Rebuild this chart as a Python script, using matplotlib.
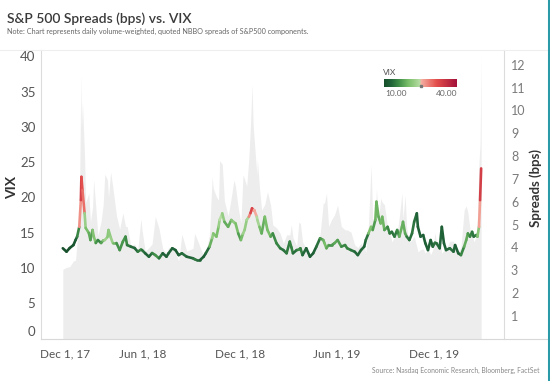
import matplotlib
matplotlib.use("Agg")
import matplotlib.pyplot as plt
import numpy as np
import pandas as pd
import matplotlib.dates as mdates
from matplotlib.collections import LineCollection
from matplotlib.colors import LinearSegmentedColormap, Normalize
from matplotlib.lines import Line2D
import matplotlib.transforms as mtransforms

# ---------------- data ----------------
dates = [
    "2018-01-02", "2018-01-09", "2018-01-15", "2018-01-22", "2018-01-26", "2018-01-29",
    "2018-02-02", "2018-02-05", "2018-02-06", "2018-02-08", "2018-02-12", "2018-02-14",
    "2018-02-20", "2018-02-23", "2018-02-27", "2018-03-01", "2018-03-05", "2018-03-09",
    "2018-03-15", "2018-03-19", "2018-03-22", "2018-03-27", "2018-03-29", "2018-04-02",
    "2018-04-06", "2018-04-13", "2018-04-19", "2018-04-25", "2018-04-30", "2018-05-03",
    "2018-05-10", "2018-05-17", "2018-05-23", "2018-05-29", "2018-05-31", "2018-06-06",
    "2018-06-13", "2018-06-19", "2018-06-25", "2018-07-02", "2018-07-09", "2018-07-16",
    "2018-07-20", "2018-07-27", "2018-08-02", "2018-08-08", "2018-08-14", "2018-08-23",
    "2018-09-04", "2018-09-07", "2018-09-11", "2018-09-17", "2018-09-24", "2018-09-28",
    "2018-10-05", "2018-10-10", "2018-10-12", "2018-10-18", "2018-10-22", "2018-10-24",
    "2018-10-29", "2018-11-02", "2018-11-09", "2018-11-15", "2018-11-20", "2018-11-23",
    "2018-11-28", "2018-12-03", "2018-12-07", "2018-12-10", "2018-12-14", "2018-12-18",
    "2018-12-21", "2018-12-24", "2018-12-26", "2018-12-28", "2019-01-02", "2019-01-03",
    "2019-01-07", "2019-01-11", "2019-01-17", "2019-01-22", "2019-01-28", "2019-02-01",
    "2019-02-08", "2019-02-15", "2019-02-21", "2019-02-27", "2019-03-05", "2019-03-08",
    "2019-03-11", "2019-03-18", "2019-03-22", "2019-03-25", "2019-03-29", "2019-04-05",
    "2019-04-12", "2019-04-18", "2019-04-24", "2019-05-01", "2019-05-07", "2019-05-09",
    "2019-05-13", "2019-05-17", "2019-05-23", "2019-05-28", "2019-06-03", "2019-06-10",
    "2019-06-17", "2019-06-21", "2019-06-28", "2019-07-05", "2019-07-11", "2019-07-17",
    "2019-07-23", "2019-07-26", "2019-07-31", "2019-08-05", "2019-08-08", "2019-08-13",
    "2019-08-15", "2019-08-19", "2019-08-23", "2019-08-26", "2019-08-30", "2019-09-05",
    "2019-09-09", "2019-09-13", "2019-09-18", "2019-09-23", "2019-09-27", "2019-10-02",
    "2019-10-04", "2019-10-08", "2019-10-11", "2019-10-16", "2019-10-21", "2019-10-25",
    "2019-10-30", "2019-11-01", "2019-11-06", "2019-11-11", "2019-11-15", "2019-11-20",
    "2019-11-25", "2019-11-29", "2019-12-03", "2019-12-06", "2019-12-12", "2019-12-16",
    "2019-12-20", "2019-12-24", "2019-12-31", "2020-01-07", "2020-01-10", "2020-01-16",
    "2020-01-21", "2020-01-27", "2020-01-31", "2020-02-03", "2020-02-07", "2020-02-11",
    "2020-02-14", "2020-02-19", "2020-02-21", "2020-02-24", "2020-02-26", "2020-02-28",
]

spread_bps = [
    3.96, 3.81, 3.97, 4.10, 4.32, 4.47,
    4.90, 6.07, 7.09, 6.51, 5.50, 4.85,
    4.63, 4.32, 4.76, 4.50, 4.19, 4.32,
    4.19, 4.30, 4.32, 4.45, 4.76, 4.45,
    4.19, 4.19, 3.88, 4.25, 4.47, 4.10,
    4.03, 3.97, 3.81, 3.90, 3.88, 3.74,
    3.59, 3.75, 3.66, 3.52, 3.74, 3.59,
    3.74, 3.96, 3.88, 3.66, 3.74, 3.59,
    3.52, 3.48, 3.44, 3.44, 3.59, 3.74,
    4.03, 4.40, 4.61, 4.47, 4.90, 5.20,
    5.49, 5.12, 4.90, 5.20, 5.10, 5.05,
    4.61, 4.32, 4.60, 4.76, 5.20, 5.34,
    5.50, 5.71, 5.64, 5.64, 5.34, 5.20,
    4.90, 4.61, 5.34, 4.76, 4.47, 4.61,
    4.18, 3.96, 3.88, 3.74, 4.25, 4.00,
    3.74, 3.88, 3.90, 3.96, 3.66, 3.96,
    3.59, 3.74, 4.03, 4.40, 4.32, 4.20,
    3.96, 4.10, 4.10, 4.18, 4.32, 4.03,
    4.10, 3.96, 3.88, 3.81, 3.66, 3.88,
    4.03, 4.32, 4.61, 4.90, 4.76, 5.20,
    6.00, 5.34, 5.05, 5.34, 4.76, 4.90,
    4.61, 4.68, 4.47, 4.76, 4.47, 4.90,
    5.12, 4.61, 4.47, 4.32, 4.61, 5.12,
    5.49, 4.90, 4.47, 4.54, 4.18, 3.88,
    4.32, 4.03, 4.20, 4.18, 3.96, 4.90,
    4.18, 3.88, 3.96, 3.81, 4.10, 3.74,
    3.66, 4.03, 4.32, 4.61, 4.47, 4.68,
    4.47, 4.54, 4.47, 4.90, 6.07, 7.46,
]

vix = [
    9.8, 10.1, 10.2, 11.0, 11.1, 13.8,
    17.3, 37.3, 29.9, 33.5, 25.6, 19.3,
    20.6, 16.5, 18.6, 22.5, 18.7, 14.6,
    16.6, 19.0, 23.3, 22.5, 20.0, 23.6,
    21.5, 17.4, 15.5, 17.8, 15.9, 15.9,
    13.2, 13.4, 12.6, 17.0, 15.4, 12.4,
    12.9, 13.4, 17.3, 15.6, 12.7, 12.1,
    12.9, 13.0, 12.2, 11.0, 14.8, 12.4,
    12.8, 14.9, 14.2, 13.0, 11.7, 12.1,
    14.8, 22.9, 21.3, 20.1, 19.6, 25.2,
    24.7, 19.5, 17.4, 20.0, 22.5, 21.5,
    18.5, 16.4, 23.2, 22.6, 21.6, 25.6,
    30.1, 36.0, 30.4, 28.3, 23.2, 25.4,
    21.4, 18.2, 19.0, 20.8, 18.9, 16.1,
    15.7, 14.9, 13.5, 14.7, 14.7, 16.1,
    14.3, 13.1, 16.5, 16.3, 13.7, 12.8,
    12.0, 12.1, 13.1, 14.8, 19.3, 19.1,
    20.6, 15.9, 16.9, 17.5, 18.9, 15.9,
    15.4, 15.4, 15.1, 13.3, 12.9, 13.5,
    13.0, 12.2, 16.1, 24.6, 16.9, 17.5,
    21.2, 16.9, 19.9, 19.3, 19.0, 15.8,
    15.3, 13.7, 14.4, 14.9, 17.2, 20.6,
    17.0, 20.3, 15.6, 13.7, 14.0, 14.5,
    13.0, 12.3, 12.6, 12.7, 12.1, 12.8,
    11.9, 12.6, 15.0, 13.6, 13.9, 12.1,
    12.5, 12.7, 13.8, 13.8, 12.6, 12.3,
    12.9, 18.2, 18.8, 17.9, 15.5, 15.2,
    13.7, 14.4, 17.1, 25.0, 27.6, 40.1,
]

x_tick_dates = ["2017-12-01", "2018-06-01", "2018-12-01", "2019-06-01", "2019-12-01"]
x_tick_labels = ["Dec 1, 17", "Jun 1, 18", "Dec 1, 18", "Jun 1, 19", "Dec 1, 19"]
vix_ticks = [0, 5, 10, 15, 20, 25, 30, 35, 40]
spread_ticks = [1, 2, 3, 4, 5, 6, 7, 8, 9, 10, 11, 12]
x_range = ["2017-11-22", "2020-04-11"]
legend_range = [10, 40]

# ---------------- styling ----------------
plt.rcParams["font.family"] = ["Lato", "DejaVu Sans"]

W, H = 550, 381
fig = plt.figure(figsize=(W / 100, H / 100), dpi=100)
fig.patch.set_facecolor("white")


def fx(px):
    return px / W


def fy(py):
    return 1 - py / H


ax = fig.add_axes([fx(41), fy(338.6), fx(504) - fx(41), fy(50) - fy(338.6)])
ax2 = ax.twinx()

cmap = LinearSegmentedColormap.from_list(
    "vix_rg",
    [(0.0, "#17502c"), (0.1, "#22653a"), (0.2, "#3e8d47"), (0.33, "#79be69"),
     (0.5, "#b9dea6"), (0.5, "#f6b3a6"), (0.72, "#e4504c"), (1.0, "#a3123a")],
)
norm = Normalize(vmin=legend_range[0], vmax=legend_range[1])

dt = pd.to_datetime(dates)
xn = mdates.date2num(dt)
vix_arr = np.array(vix)
spr_arr = np.array(spread_bps)

# VIX area (left axis)
ax.fill_between(xn, 0, vix_arr, color="#ededed", lw=0, zorder=1)

# Spread line coloured by VIX (right axis)
pts = np.column_stack([xn, spr_arr])
segs = np.stack([pts[:-1], pts[1:]], axis=1)
seg_vals = (vix_arr[:-1] + vix_arr[1:]) / 2
lc = LineCollection(segs, colors=cmap(norm(seg_vals)), linewidths=1.9,
                    capstyle="round", joinstyle="round", zorder=3)
ax2.add_collection(lc)

xlim = mdates.date2num(pd.to_datetime(x_range))
ax.set_xlim(xlim)
ax.set_ylim(0, 40.9)
ax2.set_ylim(0, 12.65)

ax.set_yticks(vix_ticks)
ax2.set_yticks(spread_ticks)
ax.set_xticks(mdates.date2num(pd.to_datetime(x_tick_dates)))
ax.set_xticklabels(x_tick_labels)

ax.tick_params(axis="y", length=0, labelsize=9.5, labelcolor="#555555", pad=4)
ax.tick_params(axis="x", length=0, labelsize=8.5, labelcolor="#555555", pad=7)
ax2.tick_params(axis="y", length=0, labelsize=9, labelcolor="#7a7a7a", pad=5)

for a in (ax, ax2):
    a.spines["top"].set_visible(False)
    a.spines["bottom"].set_visible(False)
ax.spines["left"].set_color("#dcdcdc")
ax.spines["right"].set_visible(False)
ax2.spines["left"].set_visible(False)
ax2.spines["right"].set_color("#dcdcdc")

# shift first x label and "0" y label like the reference
lab0 = ax.get_xticklabels()[0]
lab0.set_transform(lab0.get_transform() + mtransforms.ScaledTranslation(0.19, 0, fig.dpi_scale_trans))
ylab0 = ax.get_yticklabels()[0]
ylab0.set_transform(ylab0.get_transform() + mtransforms.ScaledTranslation(0, 0.08, fig.dpi_scale_trans))

# axis titles
fig.text(fx(12.5), fy(188), "VIX", rotation=90, ha="center", va="center",
         fontsize=10, fontweight="bold", color="#333333")
fig.text(fx(536), fy(188), "Spreads (bps)", rotation=90, ha="center", va="center",
         fontsize=9.5, fontweight="bold", color="#333333")

# title + note + source
fig.text(fx(7), fy(19), "S&P 500 Spreads (bps) vs. VIX", ha="left", va="center",
         fontsize=10, fontweight="semibold", color="#3a3a3a")
fig.text(fx(7), fy(31.5),
         "Note: Chart represents daily volume-weighted, quoted NBBO spreads of S&P500 components.",
         ha="left", va="center", fontsize=5.2, color="#666666")
fig.text(fx(540), fy(370), "Source: Nasdaq Economic Research, Bloomberg, FactSet",
         ha="right", va="center", fontsize=4.9, color="#888888")

# frame lines
fig.add_artist(Line2D([0, 1], [fy(50), fy(50)], color="#eeeeee", lw=0.8))
fig.add_artist(Line2D([fx(41), fx(548)], [fy(338.8), fy(338.8)], color="#d8d8d8", lw=0.8))
fig.add_artist(Line2D([fx(548.5), fx(548.5)], [0, 1], color="#2a9aa8", lw=2.2))

# colour legend
cax = fig.add_axes([fx(384), fy(87.3), fx(457) - fx(384), fy(79) - fy(87.3)])
grad = np.linspace(legend_range[0], legend_range[1], 300)[None, :]
cax.imshow(grad, aspect="auto", cmap=cmap, norm=norm,
           extent=[legend_range[0], legend_range[1], 0, 1])
cax.plot([np.mean(legend_range)], [0.1], marker="s", ms=1.6, color="#777777", clip_on=False)
cax.set_axis_off()
fig.text(fx(383), fy(72.5), "VIX", ha="left", va="center", fontsize=6, color="#555555")
fig.text(fx(385), fy(93.5), f"{legend_range[0]:.2f}", ha="left", va="center", fontsize=6, color="#666666")
fig.text(fx(457), fy(93.5), f"{legend_range[1]:.2f}", ha="right", va="center", fontsize=6, color="#666666")

fig.savefig("out.png", dpi=100)
